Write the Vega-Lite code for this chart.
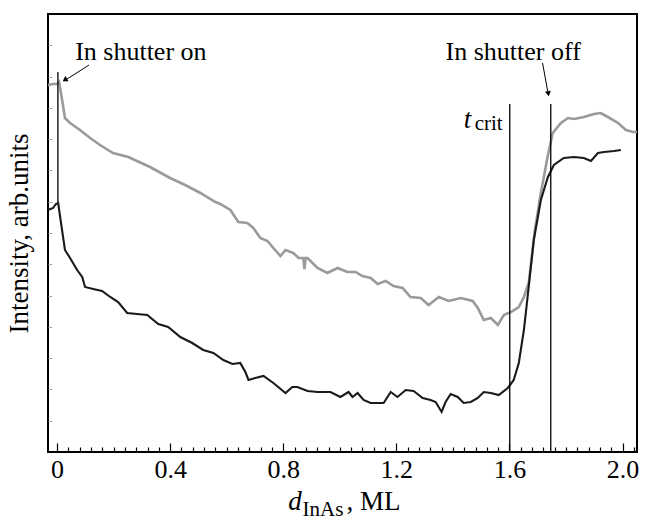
{
  "$schema": "https://vega.github.io/schema/vega-lite/v6.json",
  "width": 589,
  "height": 438,
  "autosize": "none",
  "padding": {"left": 48, "top": 14, "right": 12, "bottom": 69},
  "background": "white",
  "config": {"view": {"stroke": "black", "strokeWidth": 2}, "font": "Liberation Serif"},
  "datasets": {
    "gray": [
      {"d": -0.032, "I": 367}, {"d": -0.014, "I": 368}, {"d": 0.0, "I": 368}, {"d": 0.007, "I": 370},
      {"d": 0.018, "I": 352}, {"d": 0.028, "I": 334}, {"d": 0.046, "I": 329}, {"d": 0.081, "I": 322},
      {"d": 0.117, "I": 314}, {"d": 0.152, "I": 307}, {"d": 0.198, "I": 299}, {"d": 0.252, "I": 295},
      {"d": 0.329, "I": 285}, {"d": 0.4, "I": 274}, {"d": 0.453, "I": 267}, {"d": 0.507, "I": 259},
      {"d": 0.56, "I": 250}, {"d": 0.577, "I": 248}, {"d": 0.613, "I": 242}, {"d": 0.641, "I": 230},
      {"d": 0.673, "I": 229}, {"d": 0.694, "I": 224}, {"d": 0.719, "I": 214}, {"d": 0.744, "I": 211},
      {"d": 0.762, "I": 205}, {"d": 0.79, "I": 196}, {"d": 0.808, "I": 202}, {"d": 0.836, "I": 199},
      {"d": 0.854, "I": 194}, {"d": 0.871, "I": 194}, {"d": 0.875, "I": 183}, {"d": 0.879, "I": 194},
      {"d": 0.886, "I": 194}, {"d": 0.921, "I": 184}, {"d": 0.956, "I": 179}, {"d": 0.992, "I": 184},
      {"d": 1.027, "I": 180}, {"d": 1.056, "I": 180}, {"d": 1.08, "I": 176}, {"d": 1.109, "I": 174},
      {"d": 1.134, "I": 168}, {"d": 1.162, "I": 171}, {"d": 1.19, "I": 166}, {"d": 1.222, "I": 164},
      {"d": 1.25, "I": 155}, {"d": 1.286, "I": 154}, {"d": 1.314, "I": 147}, {"d": 1.35, "I": 155},
      {"d": 1.385, "I": 151}, {"d": 1.428, "I": 154}, {"d": 1.47, "I": 151}, {"d": 1.488, "I": 144},
      {"d": 1.509, "I": 132}, {"d": 1.534, "I": 134}, {"d": 1.559, "I": 127}, {"d": 1.58, "I": 137},
      {"d": 1.605, "I": 140}, {"d": 1.633, "I": 145}, {"d": 1.651, "I": 155}, {"d": 1.668, "I": 169},
      {"d": 1.69, "I": 222}, {"d": 1.711, "I": 259}, {"d": 1.736, "I": 297}, {"d": 1.753, "I": 319},
      {"d": 1.782, "I": 329}, {"d": 1.807, "I": 334}, {"d": 1.828, "I": 333}, {"d": 1.863, "I": 335},
      {"d": 1.899, "I": 338}, {"d": 1.923, "I": 339}, {"d": 1.948, "I": 335}, {"d": 1.984, "I": 329},
      {"d": 2.012, "I": 322}, {"d": 2.037, "I": 320}, {"d": 2.051, "I": 320}
    ],
    "black": [
      {"d": -0.032, "I": 242}, {"d": -0.014, "I": 244}, {"d": -0.004, "I": 248}, {"d": 0.004, "I": 249},
      {"d": 0.011, "I": 235}, {"d": 0.028, "I": 202}, {"d": 0.046, "I": 194}, {"d": 0.071, "I": 182},
      {"d": 0.089, "I": 175}, {"d": 0.099, "I": 165}, {"d": 0.128, "I": 163}, {"d": 0.159, "I": 161},
      {"d": 0.188, "I": 155}, {"d": 0.216, "I": 150}, {"d": 0.248, "I": 139}, {"d": 0.283, "I": 138},
      {"d": 0.319, "I": 137}, {"d": 0.358, "I": 128}, {"d": 0.393, "I": 125}, {"d": 0.436, "I": 115},
      {"d": 0.478, "I": 109}, {"d": 0.517, "I": 102}, {"d": 0.553, "I": 99}, {"d": 0.588, "I": 92},
      {"d": 0.62, "I": 88}, {"d": 0.648, "I": 89}, {"d": 0.666, "I": 80}, {"d": 0.677, "I": 72},
      {"d": 0.701, "I": 74}, {"d": 0.73, "I": 76}, {"d": 0.765, "I": 69}, {"d": 0.808, "I": 59},
      {"d": 0.832, "I": 65}, {"d": 0.85, "I": 65}, {"d": 0.886, "I": 61}, {"d": 0.921, "I": 60},
      {"d": 0.967, "I": 60}, {"d": 1.002, "I": 55}, {"d": 1.031, "I": 60}, {"d": 1.045, "I": 55},
      {"d": 1.063, "I": 59}, {"d": 1.084, "I": 52}, {"d": 1.109, "I": 49}, {"d": 1.155, "I": 49},
      {"d": 1.18, "I": 60}, {"d": 1.204, "I": 55}, {"d": 1.233, "I": 62}, {"d": 1.261, "I": 61},
      {"d": 1.293, "I": 54}, {"d": 1.321, "I": 52}, {"d": 1.339, "I": 50}, {"d": 1.36, "I": 40},
      {"d": 1.374, "I": 50}, {"d": 1.392, "I": 58}, {"d": 1.417, "I": 55}, {"d": 1.438, "I": 49},
      {"d": 1.463, "I": 50}, {"d": 1.488, "I": 54}, {"d": 1.509, "I": 60}, {"d": 1.534, "I": 59},
      {"d": 1.562, "I": 57}, {"d": 1.594, "I": 64}, {"d": 1.615, "I": 72}, {"d": 1.633, "I": 89},
      {"d": 1.651, "I": 122}, {"d": 1.668, "I": 165}, {"d": 1.686, "I": 212}, {"d": 1.711, "I": 252},
      {"d": 1.736, "I": 275}, {"d": 1.757, "I": 287}, {"d": 1.792, "I": 294}, {"d": 1.828, "I": 295},
      {"d": 1.863, "I": 294}, {"d": 1.888, "I": 291}, {"d": 1.913, "I": 299}, {"d": 1.934, "I": 300},
      {"d": 1.97, "I": 301}, {"d": 1.994, "I": 302}
    ],
    "vlines": [
      {"d": 0.003, "I": 380, "I2": 250},
      {"d": 1.601, "I": 348, "I2": 0},
      {"d": 1.746, "I": 348, "I2": 0}
    ],
    "arrows": [
      {"d": 0.113, "I": 387, "d2": 0.03, "I2": 372},
      {"d": 1.717, "I": 389, "d2": 1.737, "I2": 358}
    ],
    "labels": [
      {"d": 0.064, "I": 392, "label": "In shutter on"},
      {"d": 1.374, "I": 392, "label": "In shutter off"}
    ]
  },
  "encoding": {
    "x": {
      "field": "d", "type": "quantitative",
      "scale": {"domain": [-0.032, 2.051], "nice": false, "zero": false},
      "axis": {
        "title": null,
        "values": [0, 0.04, 0.08, 0.12, 0.16, 0.2, 0.24, 0.28, 0.32, 0.36, 0.4, 0.44, 0.48, 0.52, 0.56, 0.6, 0.64, 0.68, 0.72, 0.76, 0.8, 0.84, 0.88, 0.92, 0.96, 1.0, 1.04, 1.08, 1.12, 1.16, 1.2, 1.24, 1.28, 1.32, 1.36, 1.4, 1.44, 1.48, 1.52, 1.56, 1.6, 1.64, 1.68, 1.72, 1.76, 1.8, 1.84, 1.88, 1.92, 1.96, 2.0, 2.04],
        "labelExpr": "abs(datum.value*2.5 - round(datum.value*2.5)) < 0.001 ? (datum.value == 0 ? '0' : format(datum.value, '.1f')) : ''",
        "tickSize": {"condition": {"test": "abs(datum.value*2.5 - round(datum.value*2.5)) < 0.001", "value": -9}, "value": -5},
        "tickColor": "black", "tickWidth": 1.2,
        "domain": false, "grid": false,
        "labelFont": "Liberation Serif", "labelFontSize": 26, "labelColor": "black",
        "labelPadding": 13, "labelFlush": false, "labelOverlap": false
      }
    },
    "y": {
      "field": "I", "type": "quantitative",
      "scale": {"domain": [0, 438], "nice": false, "zero": false},
      "axis": {
        "values": [31.3, 62.6, 93.9, 125.1, 156.4, 187.7, 219, 250.3, 281.6, 312.9, 344.1, 375.4, 406.7],
        "tickSize": -4, "tickColor": "#aaaaaa", "labels": false, "domain": false, "grid": false,
        "title": "Intensity, arb.units", "titleFont": "Liberation Serif", "titleFontSize": 27,
        "titleFontWeight": "normal", "titleColor": "black", "titlePadding": 14
      }
    }
  },
  "layer": [
    {"data": {"name": "gray"}, "mark": {"type": "line", "color": "#9a9a9a", "strokeWidth": 2.6}},
    {"data": {"name": "black"}, "mark": {"type": "line", "color": "#1a1a1a", "strokeWidth": 2.1}},
    {"data": {"name": "vlines"}, "mark": {"type": "rule", "color": "black", "strokeWidth": 1.3},
     "encoding": {"y2": {"field": "I2"}}},
    {"data": {"name": "arrows"}, "mark": {"type": "rule", "color": "black", "strokeWidth": 1},
     "encoding": {"x2": {"field": "d2"}, "y2": {"field": "I2"}}},
    {"data": {"values": [{"d": 0.03, "I": 372.5}]},
     "mark": {"type": "point", "shape": "triangle", "angle": 239, "filled": true, "color": "black", "size": 35, "opacity": 1}},
    {"data": {"values": [{"d": 1.737, "I": 359}]},
     "mark": {"type": "point", "shape": "triangle", "angle": 170, "filled": true, "color": "black", "size": 35, "opacity": 1}},
    {"data": {"name": "labels"},
     "mark": {"type": "text", "align": "left", "baseline": "alphabetic", "font": "Liberation Serif", "fontSize": 26, "color": "black"},
     "encoding": {"text": {"field": "label"}}},
    {"data": {"values": [{"d": 1.438, "I": 324, "label": "t"}, {"d": 0.818, "I": -58, "label": "d"}]},
     "mark": {"type": "text", "align": "left", "baseline": "alphabetic", "font": "Liberation Serif", "fontStyle": "italic", "fontSize": 27, "color": "black"},
     "encoding": {"text": {"field": "label"}}},
    {"data": {"values": [{"d": 1.477, "I": 322, "label": "crit"}, {"d": 0.868, "I": -64, "label": "InAs"}]},
     "mark": {"type": "text", "align": "left", "baseline": "alphabetic", "font": "Liberation Serif", "fontSize": 21, "color": "black"},
     "encoding": {"text": {"field": "label"}}},
    {"data": {"values": [{"d": 1.024, "I": -58, "label": ", ML"}]},
     "mark": {"type": "text", "align": "left", "baseline": "alphabetic", "font": "Liberation Serif", "fontSize": 27, "color": "black"},
     "encoding": {"text": {"field": "label"}}}
  ]
}
